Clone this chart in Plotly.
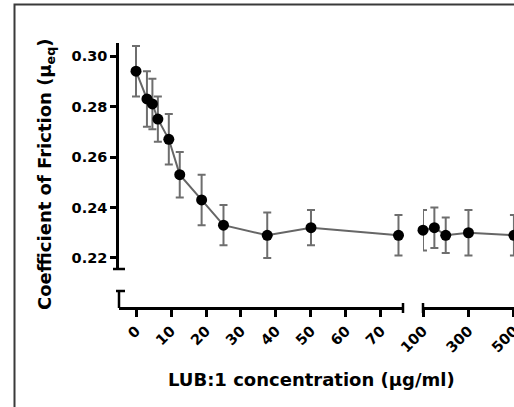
import plotly.graph_objects as go

# ---- data ----
conc_low = [0, 3.125, 4.69, 6.25, 9.375, 12.5, 18.75, 25, 37.5, 50, 75]
cof_low = [0.294, 0.283, 0.281, 0.275, 0.267, 0.253, 0.243, 0.233, 0.229, 0.232, 0.229]
err_low = [0.010, 0.011, 0.010, 0.009, 0.010, 0.009, 0.010, 0.008, 0.009, 0.007, 0.008]

conc_high = [100, 150, 200, 300, 500]
cof_high = [0.231, 0.232, 0.229, 0.230, 0.229]
err_high = [0.008, 0.008, 0.007, 0.009, 0.008]

xticks_low = [0, 10, 20, 30, 40, 50, 60, 70]
xticks_high = [100, 300, 500]
yticks = [0.22, 0.24, 0.26, 0.28, 0.30]

x_title = "LUB:1 concentration (µg/ml)"
y_title = "Coefficient of Friction (μ<sub>eq</sub>)"

# ---- style ----
FONT = "DejaVu Sans"
LINE_C = "#666666"
ERR_C = "#6e6e6e"
AX_W = 2.5

W, H = 514, 407
ML, MR, MT, MB = 119, 0, 43, 99
PW, PH = W - ML - MR, H - MT - MB

def px_x(p):
    return (p - ML) / PW

def px_y(p):
    return (H - MB - p) / PH

y_up_dom = [px_y(269), 1]
y_lo_top = px_y(291)
x_lo_dom = [0, px_x(403)]
x_hi_dom = [px_x(423), 1]

def trace(x, y, e, xa):
    return go.Scatter(
        x=x, y=y, xaxis=xa, yaxis="y", mode="lines+markers",
        line=dict(color=LINE_C, width=2),
        marker=dict(color="black", size=11),
        error_y=dict(type="data", array=e, visible=True, color=ERR_C,
                     thickness=2, width=4),
        cliponaxis=False, showlegend=False,
    )

fig = go.Figure()
fig.add_trace(trace(conc_low, cof_low, err_low, "x"))
fig.add_trace(trace(conc_high, cof_high, err_high, "x2"))

tickfont = dict(family=FONT, size=14.5, color="black", weight="bold")
axcommon = dict(showgrid=False, zeroline=False, showline=True, linecolor="black",
                linewidth=AX_W, ticks="outside", tickcolor="black", tickwidth=AX_W,
                automargin=False, tickfont=tickfont, ticklabeloverflow="allow")

fig.update_layout(
    width=W, height=H,
    margin=dict(l=ML, r=MR, t=MT, b=MB, pad=0),
    paper_bgcolor="white", plot_bgcolor="white",
    xaxis=dict(domain=x_lo_dom, range=[-4.857, 76.29], anchor="free", position=0,
               tickmode="array", tickvals=xticks_low, ticklen=7, tickangle=-45,
               **axcommon),
    xaxis2=dict(domain=x_hi_dom, range=[100, 500.3], anchor="free", position=0,
                tickmode="array", tickvals=xticks_high, ticklen=7, tickangle=-45,
                **axcommon),
    yaxis=dict(domain=y_up_dom, range=[0.21564, 0.30515], anchor="x",
               tickmode="array", tickvals=yticks, tickformat=".2f", ticklen=6,
               **axcommon),
)

blk = dict(color="black", width=AX_W)
shapes = [
    # lower y-axis segment (below the break)
    dict(type="line", xref="paper", yref="paper", x0=0, x1=0, y0=0, y1=y_lo_top, line=blk),
    # bottom end cap of upper y segment
    dict(type="line", xref="paper", yref="paper", xsizemode="pixel", xanchor=0,
         x0=-6, x1=6, y0=y_up_dom[0], y1=y_up_dom[0], line=blk),
    # top end cap of lower y segment
    dict(type="line", xref="paper", yref="paper", xsizemode="pixel", xanchor=0,
         x0=-3, x1=6, y0=y_lo_top, y1=y_lo_top, line=blk),
    # right end cap of first x segment
    dict(type="line", xref="paper", yref="paper", ysizemode="pixel", yanchor=0,
         y0=-5, y1=5, x0=x_lo_dom[1], x1=x_lo_dom[1], line=blk),
    # left end cap of second x segment
    dict(type="line", xref="paper", yref="paper", ysizemode="pixel", yanchor=0,
         y0=-5, y1=5, x0=x_hi_dom[0], x1=x_hi_dom[0], line=blk),
    # outer frame
    dict(type="rect", xref="paper", yref="paper",
         x0=px_x(14.5), x1=px_x(540), y0=px_y(4.5), y1=px_y(430),
         line=dict(color="#3a3a3a", width=2), fillcolor="rgba(0,0,0,0)", layer="below"),
]
fig.update_layout(shapes=shapes)

fig.add_annotation(text=x_title, xref="paper", yref="paper",
                   x=px_x(311.5), y=px_y(379), xanchor="center", yanchor="middle",
                   showarrow=False,
                   font=dict(family=FONT, size=18, color="black", weight="bold"))
fig.add_annotation(text=y_title, xref="paper", yref="paper", textangle=-90,
                   x=px_x(46), y=px_y(175), xanchor="center", yanchor="middle",
                   showarrow=False,
                   font=dict(family=FONT, size=18, color="black", weight="bold"))

fig.write_html("out.html")
